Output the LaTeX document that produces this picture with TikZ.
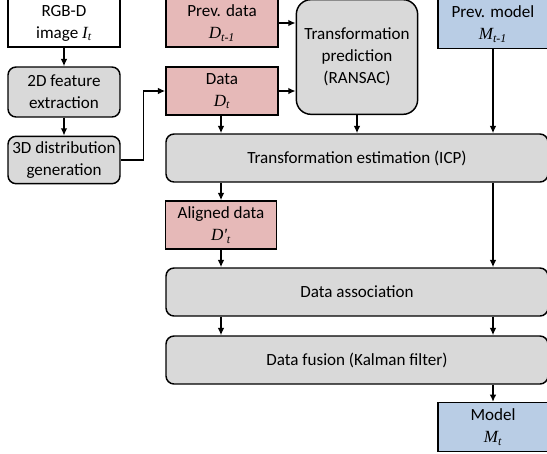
\documentclass[tikz,border=0pt]{standalone}
\usepackage{fontspec}
\setmainfont{Carlito}
\newfontfamily\symfont{Liberation Serif}
\usetikzlibrary{positioning,arrows.meta}
\usepackage{xcolor}
\definecolor{datared}{HTML}{E6B9B8}
\definecolor{modelblue}{HTML}{B9CDE5}
\definecolor{stepgray}{HTML}{D9D9D9}
\newcommand{\var}[2]{{\symfont\itshape #1\textsubscript{#2}}}
\tikzset{
  base/.style={draw=black,line width=1.1pt,align=center,inner sep=1pt,
    font=\fontsize{12.8}{16.6}\selectfont},
  stepbox/.style={base,fill=stepgray,rounded corners=6pt},
  databox/.style={base,fill=datared,minimum width=84pt,minimum height=36pt},
  modelbox/.style={base,fill=modelblue,minimum width=82.5pt,minimum height=36.5pt},
  widebox/.style={stepbox,minimum width=286.5pt,minimum height=36pt},
}

\begin{document}
\begin{tikzpicture}[x=0.75pt,y=-0.75pt,>={Latex[length=5.5pt,width=5pt]},line width=1.1pt]
\useasboundingbox (0,0) rectangle (547,454);
% input side
\node[base,fill=white,minimum width=84pt,minimum height=36pt] (img) at (64,23) {RGB-D\\image \var{I}{t}};
\node[stepbox,minimum width=84pt,minimum height=37.5pt] (feat) at (64,92) {2D feature\\extraction};
\node[stepbox,minimum width=84pt,minimum height=35.5pt] (dist) at (64,160) {3D distribution\\generation};
% data and model
\node[databox] (prev) at (222,23) {Prev. data\\\var{D}{t-1}};
\node[databox] (data) at (222,91) {Data\\\var{D}{t}};
\node[stepbox,rounded corners=11pt,minimum width=91pt,minimum height=86pt] (ransac) at (357,57) {Transformation\\prediction\\(RANSAC)};
\node[modelbox] (prevm) at (493,24) {Prev. model\\\var{M}{t-1}};
% pipeline
\node[widebox] (icp) at (357,158) {Transformation estimation (ICP)};
\node[databox,minimum width=83pt] (aligned) at (221,225) {Aligned data\\\var{D'}{t}};
\node[widebox] (assoc) at (357,292) {Data association};
\node[widebox] (fusion) at (357,360) {Data fusion (Kalman filter)};
\node[modelbox] (model) at (493,427) {Model\\\var{M}{t}};

\draw[->] (img) -- (feat);
\draw[->] (feat) -- (dist);
\draw[->] (dist.east) -- ++(23,0) |- (data.west);
\draw[->] (prev.east) -- (prev.east -| ransac.west);
\draw[->] (data.east) -- (data.east -| ransac.west);
\draw[->] (data.south -| aligned) -- (icp.north -| aligned);
\draw[->] (ransac) -- (icp.north -| ransac);
\draw[->] (prevm) -- (icp.north -| prevm);
\draw[->] (icp.south -| aligned) -- (aligned);
\draw[->] (icp.south -| prevm) -- (assoc.north -| prevm);
\draw[->] (aligned) -- (assoc.north -| aligned);
\draw[->] (assoc.south -| aligned) -- (fusion.north -| aligned);
\draw[->] (assoc.south -| prevm) -- (fusion.north -| prevm);
\draw[->] (fusion.south -| model) -- (model);
\end{tikzpicture}
\end{document}
